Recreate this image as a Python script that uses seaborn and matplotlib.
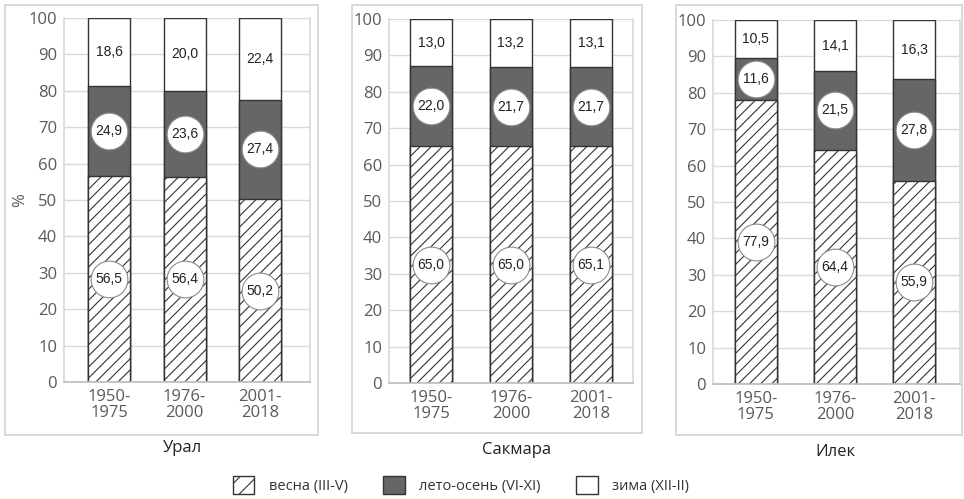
import matplotlib
matplotlib.use("Agg")
import matplotlib.pyplot as plt
import pandas as pd
import seaborn as sns
from matplotlib.patches import Patch, Rectangle

# Seasonal share of annual runoff (%) for three rivers and three periods
rivers = ["Урал", "Сакмара", "Илек"]
periods = ["1950-\n1975", "1976-\n2000", "2001-\n2018"]
spring = [[56.5, 56.4, 50.2], [65.0, 65.0, 65.1], [77.9, 64.4, 55.9]]
summer_autumn = [[24.9, 23.6, 27.4], [22.0, 21.7, 21.7], [11.6, 21.5, 27.8]]
winter = [[18.6, 20.0, 22.4], [13.0, 13.2, 13.1], [10.5, 14.1, 16.3]]
season_names = ["весна (III-V)", "лето-осень (VI-XI)", "зима (XII-II)"]

sns.set_theme(style="white")
plt.rcParams["font.family"] = ["Open Sans", "DejaVu Sans"]
plt.rcParams["hatch.linewidth"] = 0.8

DARK = "#666666"
EDGE = "#333333"
TICK = "#595959"

W, H = 964, 499
fig = plt.figure(figsize=(W / 100, H / 100), dpi=100)

# axes boxes in pixels: left, right, top, bottom ; plus x-limits and bar width
layout = [
    dict(px=(64, 310, 18, 382), xlim=(-0.596, 2.66), width=0.556, frame=(5, 318, 5, 435), title=(182, 448)),
    dict(px=(389, 633, 19, 383), xlim=(-0.525, 2.525), width=0.525, frame=(352, 642, 5, 433), title=(517, 450)),
    dict(px=(713, 960, 20, 384), xlim=(-0.54, 2.58), width=0.53, frame=(676, 962, 5, 435), title=(835, 452)),
]


def fig_rect(l, r, t, b):
    return [l / W, 1 - b / H, (r - l) / W, (b - t) / H]


def fmt(v):
    return f"{v:.1f}".replace(".", ",")


for i, river in enumerate(rivers):
    cfg = layout[i]
    ax = fig.add_axes(fig_rect(*cfg["px"]))
    df = pd.DataFrame({
        "period": periods,
        "spring": spring[i],
        "summer": summer_autumn[i],
        "winter": winter[i],
    })
    df["lower2"] = df["spring"] + df["summer"]
    df["total"] = df["lower2"] + df["winter"]

    common = dict(x="period", order=periods, width=cfg["width"], saturation=1,
                  edgecolor=EDGE, linewidth=1.0, ax=ax, zorder=2)
    sns.barplot(data=df, y="total", color="white", **common)
    sns.barplot(data=df, y="lower2", color=DARK, **common)
    sns.barplot(data=df, y="spring", color="white", hatch="///", **common)

    xs = range(len(periods))
    sp_mid = df["spring"] / 2
    su_mid = df["spring"] + df["summer"] / 2
    wi_mid = df["lower2"] + df["winter"] / 2
    for x, ys in ((xs, sp_mid), (xs, su_mid)):
        ax.scatter(list(x), ys, s=700, facecolor="white", edgecolor="#8a8a8a",
                   linewidth=0.8, zorder=3)
    for mids, vals in ((sp_mid, df["spring"]), (su_mid, df["summer"]), (wi_mid, df["winter"])):
        for x, y, v in zip(xs, mids, vals):
            ax.text(x, y, fmt(v), ha="center", va="center", fontsize=10,
                    family="Liberation Sans", color="#222222", zorder=4)

    ax.set_xlim(*cfg["xlim"])
    ax.set_ylim(0, 100)
    ax.set_yticks(range(0, 101, 10))
    ax.yaxis.grid(True, color="#d9d9d9", linewidth=1)
    ax.set_axisbelow(True)
    ax.tick_params(length=0, colors=TICK, labelsize=12, pad=5)
    for lab in ax.get_xticklabels():
        lab.set_linespacing(1.0)
    ax.set_xlabel("")
    ax.set_ylabel("")
    ax.spines["top"].set_visible(False)
    for s in ("left", "right"):
        ax.spines[s].set_color("#d9d9d9")
    ax.spines["bottom"].set_color("#bfbfbf")
    if i == 0:
        ax.set_ylabel("%", color=TICK, fontsize=12, labelpad=0)

    fl, fr, ft, fb = cfg["frame"]
    fig.patches.append(Rectangle((fl / W, 1 - fb / H), (fr - fl) / W, (fb - ft) / H,
                                 transform=fig.transFigure, fill=False,
                                 edgecolor="#d3d3d3", linewidth=1.2))
    tx, ty = cfg["title"]
    fig.text(tx / W, 1 - ty / H, river, ha="center", va="center",
             fontsize=12, color="#222222")

handles = [
    Patch(facecolor="white", edgecolor=EDGE, hatch="//", linewidth=1.0),
    Patch(facecolor=DARK, edgecolor=EDGE, linewidth=1.0),
    Patch(facecolor="white", edgecolor=EDGE, linewidth=1.0),
]
fig.legend(handles, season_names, loc="center", bbox_to_anchor=(461 / W, 1 - 485 / H),
           ncol=3, frameon=False, fontsize=10.5, handlelength=1.5, handleheight=1.5,
           handletextpad=1.0, columnspacing=2.4, labelcolor="#333333")

fig.savefig("out.png", dpi=100, facecolor="white")
